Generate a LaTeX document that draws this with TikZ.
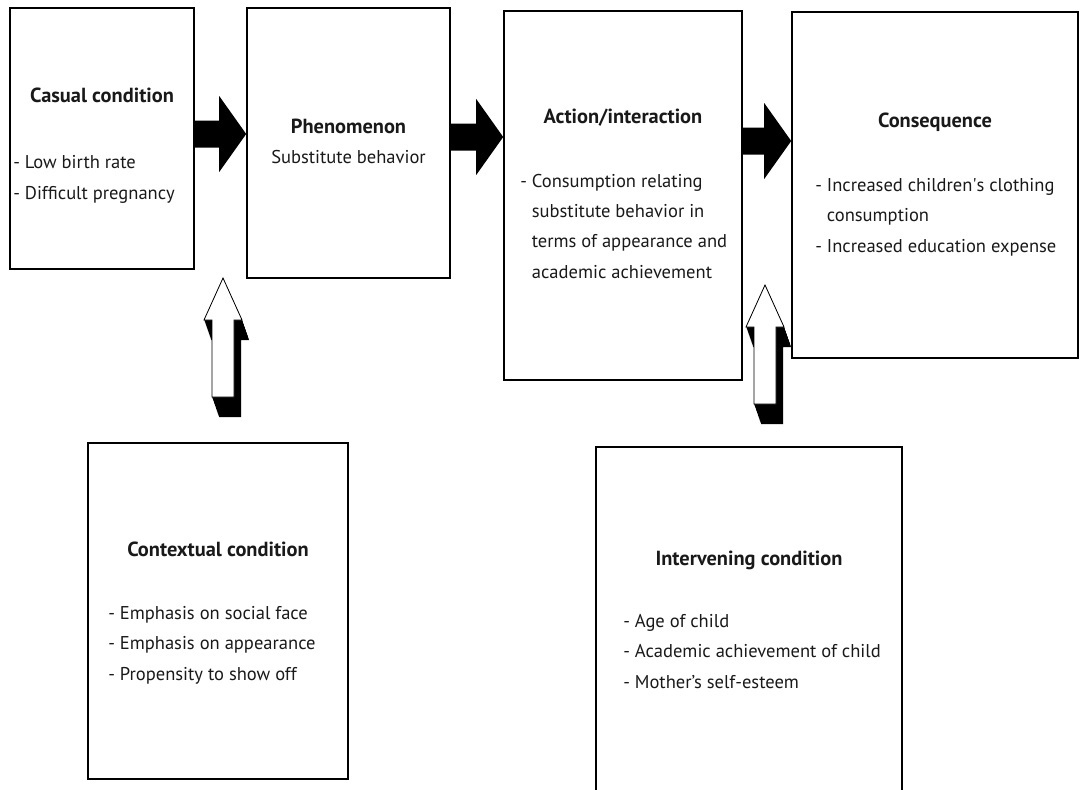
\documentclass[tikz,border=0pt]{standalone}
\usepackage{fontspec}
\setmainfont{PT Sans}
\usetikzlibrary{calc, positioning, fit}

\begin{document}
\begin{tikzpicture}[x=0.75pt, y=-0.75pt,
    every node/.style={font=\fontsize{13.9}{22.7}\selectfont, text=black!90, inner sep=0pt},
    box/.style={draw, line width=1.2pt, inner sep=0pt},
    head/.style={font=\fontsize{15.3}{22.7}\selectfont\bfseries, anchor=base},
    items/.style={align=left, anchor=base west},
    blockarr/.style={fill=black},
    uparr/.style={fill=white, draw=black, line width=0.6pt}
  ]
  \useasboundingbox (0,0) rectangle (1080,789);
  \clip (0,0) rectangle (1080,789);

  % boxes
  \node[box, fit={(10,8) (194,269)}]    (casual) {};
  \node[box, fit={(247,8) (450,278)}]   (phen) {};
  \node[box, fit={(504,11) (742,380)}]  (action) {};
  \node[box, fit={(792,12) (1078,358)}] (conseq) {};
  \node[box, fit={(88,443) (348,779)}]  (context) {};
  \node[box, fit={(596,447) (902,830)}] (interv) {};

  % texts (items anchored at the baseline of their last line)
  \node[head] (casual-t) at (casual.north |- 0,102) {Casual condition};
  \node[items] (casual-l) at (13,199) {- Low birth rate\\- Difficult pregnancy};

  \node[head] (phen-t) at (phen.north |- 0,133) {Phenomenon};
  \node[anchor=base] (phen-l) at (phen.north |- 0,163) {Substitute behavior};

  \node[head] (action-t) at (action.north |- 0,123) {Action/interaction};
  \node[items] (action-l) at (520,278) {- Consumption relating\\\phantom{- }substitute behavior in\\\phantom{- }terms of appearance and\\\phantom{- }academic achievement};

  \node[head] (conseq-t) at (conseq.north |- 0,127) {Consequence};
  \node[items] (conseq-l) at (815,252) {- Increased children\textquotesingle s clothing\\\phantom{- }consumption\\- Increased education expense};

  \node[head] (context-t) at (context.north |- 0,556) {Contextual condition};
  \node[items] (context-l) at (108,680) {- Emphasis on social face\\- Emphasis on appearance\\- Propensity to show off};

  \node[head] (interv-t) at (interv.north |- 0,565) {Intervening condition};
  \node[items] (interv-l) at (623,688) {- Age of child\\- Academic achievement of child\\- Mother's self-esteem};

  % solid arrows between the top boxes
  \coordinate (a1) at (casual.east |- 0,134);
  \coordinate (a2) at (phen.east |- 0,137);
  \coordinate (a3) at (action.east |- 0,141);
  \foreach \s/\t in {a1/phen, a2/action, a3/conseq}{
    \coordinate (tip) at (\t.west |- \s);
    \fill[blockarr] ($(\s)+(0,-13.5)$) -- ($(tip)+(-27,-13.5)$) -- ($(tip)+(-27,-38)$) -- (tip)
      -- ($(tip)+(-27,38)$) -- ($(tip)+(-27,13.5)$) -- ($(\s)+(0,13.5)$) -- cycle;
  }

  % hollow arrows with shadow
  \coordinate (u1) at (223,278);
  \coordinate (u2) at (765,285);
  \foreach \u in {u1,u2}{
    \foreach \k in {0,1,...,20}
      \fill[black, shift={($(\u)+(0.35*\k,\k)$)}] (0,0) -- (19,42) -- (11,42) -- (11,119) -- (-11,119) -- (-11,42) -- (-19,42) -- cycle;
    \filldraw[uparr, shift={(\u)}] (0,0) -- (19,42) -- (11,42) -- (11,119) -- (-11,119) -- (-11,42) -- (-19,42) -- cycle;
  }
\end{tikzpicture}
\end{document}
